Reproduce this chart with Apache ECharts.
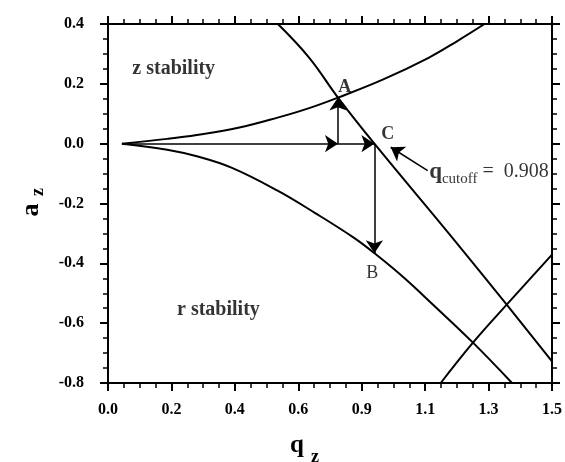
<!DOCTYPE html>
<html><head><meta charset="utf-8">
<script src="https://cdn.jsdelivr.net/npm/echarts@6/dist/echarts.min.js"></script>
<style>html,body{margin:0;padding:0;background:#fff}#c{width:565px;height:462px}</style>
</head><body><div id="c"></div>
<script>
// ---- data ----
const xTickLabels = ['0.0','0.2','0.4','0.6','0.9','1.1','1.3','1.5'];
const yTickLabels = ['-0.8','-0.6','-0.4','-0.2','0.0','0.2','0.4'];

// upper boundary of z-stability region (beta_r = 0)
const upperQ = [0.047, 0.2, 0.3, 0.44, 0.573, 0.677, 0.777, 0.93, 1.083, 1.18, 1.28];
const upperA = [0.0, 0.016, 0.029, 0.053, 0.087, 0.118, 0.154, 0.215, 0.287, 0.343, 0.405];
// lower boundary (beta_z = 0)
const lowerQ = [0.047, 0.2, 0.3, 0.417, 0.573, 0.7, 0.83, 0.9, 1.0, 1.1, 1.233, 1.365];
const lowerA = [0.0, -0.02, -0.042, -0.08, -0.157, -0.232, -0.314, -0.366, -0.448, -0.54, -0.665, -0.8];
// beta_z = 1 boundary
const bz1Q = [0.574, 0.68, 0.777, 0.9, 1.163, 1.347, 1.5];
const bz1A = [0.4, 0.287, 0.154, 0.0, -0.314, -0.538, -0.728];
// beta_r = 1 boundary
const br1Q = [1.124, 1.233, 1.347, 1.5];
const br1A = [-0.8, -0.665, -0.538, -0.371];

// arrows: from -> to (data coords)
const arrowFrom = [[0.047, 0.0], [0.777, 0.0], [0.777, 0.0], [0.9, 0.0], [1.08, -0.09]];
const arrowTo   = [[0.777, 0.0], [0.9, 0.0], [0.777, 0.154], [0.9, -0.366], [0.955, -0.012]];

// annotation texts and their anchor (data coords)
const noteText = ['z stability', 'r stability', 'A', 'C', 'B'];
const noteQ = [0.222, 0.373, 0.8, 0.945, 0.893];
const noteA = [0.25, -0.555, 0.187, 0.032, -0.433];
const cutoffValue = '0.908';
const cutoffAt = [1.085, -0.095];

const pairs = (qs, as) => qs.map((q, i) => [q, as[i]]);
const black = '#000';
const serif = "'Liberation Serif', 'DejaVu Serif', serif";
const xStep = 1.5 / 7;

const axisCommon = {
  axisLine: { onZero: false, lineStyle: { color: black, width: 2 } },
  axisTick: { show: true, length: 8, lineStyle: { color: black, width: 2 } },
  minorTick: { show: true, splitNumber: 4, length: 5, lineStyle: { color: black, width: 1.5 } },
  splitLine: { show: false },
  minorSplitLine: { show: false }
};
const labelFont = { color: black, fontFamily: serif, fontWeight: 'bold', fontSize: 16 };

const curveSeries = (d) => ({
  type: 'line', data: d, smooth: 0.4, showSymbol: false, symbol: 'none',
  lineStyle: { color: black, width: 2 }, silent: true, clip: true
});

const noteStyles = [
  { fontSize: 20, fontWeight: 'bold' },
  { fontSize: 20, fontWeight: 'bold' },
  { fontSize: 18, fontWeight: 'bold' },
  { fontSize: 18, fontWeight: 'bold' },
  { fontSize: 18, fontWeight: 'normal' }
];

const option = {
  animation: false,
  backgroundColor: '#fff',
  grid: { left: 108, right: 7, top: 24, bottom: 79 },
  xAxis: [
    Object.assign({}, axisCommon, {
      type: 'value', min: 0, max: 1.5, interval: xStep, position: 'bottom',
      axisLabel: Object.assign({ margin: 19, formatter: (v) => xTickLabels[Math.round(v / xStep)] }, labelFont)
    }),
    Object.assign({}, axisCommon, {
      type: 'value', min: 0, max: 1.5, interval: xStep, position: 'top',
      axisLabel: { show: false }
    })
  ],
  yAxis: [
    Object.assign({}, axisCommon, {
      type: 'value', min: -0.8, max: 0.4, interval: 0.2, position: 'left',
      axisLabel: Object.assign({ margin: 24, formatter: (v) => yTickLabels[Math.round((v + 0.8) / 0.2)] }, labelFont)
    }),
    Object.assign({}, axisCommon, {
      type: 'value', min: -0.8, max: 0.4, interval: 0.2, position: 'right',
      axisLabel: { show: false }
    })
  ],
  series: [
    curveSeries(pairs(upperQ, upperA)),
    curveSeries(pairs(lowerQ, lowerA)),
    curveSeries(pairs(bz1Q, bz1A)),
    curveSeries(pairs(br1Q, br1A)),
    {
      type: 'lines', coordinateSystem: 'cartesian2d', silent: true,
      symbol: ['none', 'arrow'], symbolSize: [7, 13],
      lineStyle: { color: black, width: 1.5, opacity: 1 },
      data: arrowFrom.map((f, i) => ({ coords: [f, arrowTo[i]] }))
    },
    {
      type: 'scatter', symbolSize: 0, silent: true,
      data: noteText.map((t, i) => ({
        value: [noteQ[i], noteA[i]], name: t,
        label: Object.assign({ show: true, position: 'inside', formatter: t, color: black, fontFamily: serif }, noteStyles[i])
      }))
    },
    {
      type: 'scatter', symbolSize: 0, silent: true,
      data: [{
        value: cutoffAt,
        label: {
          show: true, position: 'right', distance: 0,
          formatter: '{q|q}{s|cutoff}{e| =  ' + cutoffValue + '}',
          rich: {
            q: { fontFamily: serif, fontWeight: 'bold', fontSize: 23, color: black, lineHeight: 28, verticalAlign: 'middle' },
            s: { fontFamily: serif, fontSize: 15, color: black, verticalAlign: 'bottom', lineHeight: 28, padding: [12, 0, 0, 0] },
            e: { fontFamily: serif, fontSize: 20, color: black, lineHeight: 28, verticalAlign: 'middle' }
          }
        }
      }]
    }
  ],
  graphic: [
    { type: 'text', x: 297, y: 446, style: { text: 'q', font: "bold 25px 'Liberation Serif'", fill: black, textAlign: 'center', textVerticalAlign: 'middle' } },
    { type: 'text', x: 315, y: 457, style: { text: 'z', font: "bold 18px 'Liberation Serif'", fill: black, textAlign: 'center', textVerticalAlign: 'middle' } },
    { type: 'text', x: 31, y: 210, rotation: Math.PI / 2, style: { text: 'a', font: "bold 26px 'Liberation Serif'", fill: black, textAlign: 'center', textVerticalAlign: 'middle' } },
    { type: 'text', x: 38, y: 192, rotation: Math.PI / 2, style: { text: 'z', font: "bold 18px 'Liberation Serif'", fill: black, textAlign: 'center', textVerticalAlign: 'middle' } }
  ]
};
echarts.init(document.getElementById('c'), null, { renderer: 'canvas' }).setOption(option);
</script>
</body></html>
